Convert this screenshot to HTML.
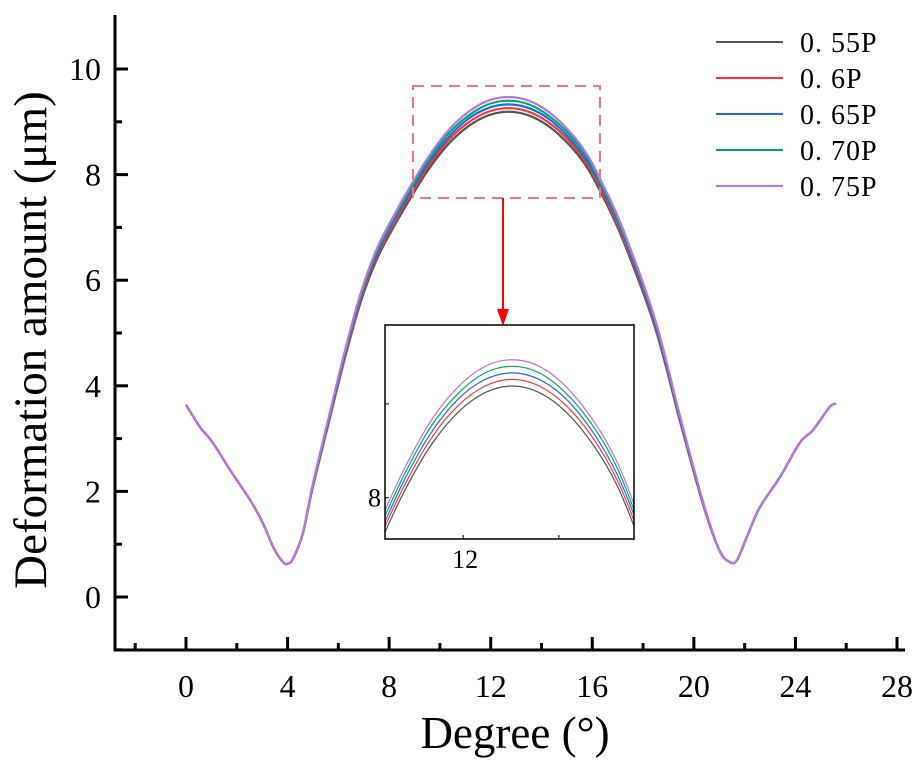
<!DOCTYPE html>
<html><head><meta charset="utf-8"><style>
html,body{margin:0;padding:0;background:#fff;overflow:hidden;width:921px;height:777px;}
svg{display:block;position:absolute;left:0;top:0;}
text{font-family:"Liberation Serif","Noto Serif CJK SC",serif;fill:#000;}
</style></head><body>
<svg id="chart" width="921" height="777" viewBox="0 0 921 777"></svg>
<script>
const xValues=[0,0.55,1.06,1.73,2.52,3.03,3.43,3.82,4.0,4.21,4.6,4.98,5.61,6.25,6.89,7.52,8.17,8.8,9.5,10.3,11.1,11.9,12.7,13.5,14.3,15.1,15.8,16.4,17.19,18.46,19.48,20.37,21.0,21.42,21.7,22.09,22.6,23.39,24.17,24.69,25.35,25.6];
const y055=[3.64,3.22,2.92,2.41,1.84,1.40,0.95,0.66,0.63,0.72,1.20,2.05,3.28,4.51,5.60,6.40,7.00,7.52,8.06,8.56,8.91,9.12,9.19,9.12,8.91,8.56,8.13,7.60,6.78,5.12,3.28,1.74,0.89,0.66,0.70,1.14,1.70,2.27,2.92,3.16,3.60,3.66];
const y060=[3.64,3.22,2.92,2.41,1.84,1.40,0.95,0.66,0.63,0.72,1.20,2.07,3.31,4.54,5.64,6.45,7.05,7.58,8.12,8.63,8.98,9.19,9.26,9.19,8.98,8.63,8.19,7.66,6.83,5.16,3.31,1.75,0.89,0.66,0.70,1.14,1.70,2.27,2.92,3.16,3.60,3.66];
const y065=[3.64,3.22,2.92,2.41,1.84,1.40,0.95,0.66,0.63,0.72,1.20,2.08,3.33,4.58,5.69,6.50,7.11,7.63,8.18,8.69,9.05,9.26,9.33,9.26,9.05,8.69,8.25,7.72,6.89,5.20,3.33,1.77,0.89,0.66,0.70,1.14,1.70,2.27,2.92,3.16,3.60,3.66];
const y070=[3.64,3.22,2.92,2.41,1.84,1.40,0.95,0.66,0.63,0.72,1.20,2.10,3.36,4.61,5.73,6.55,7.16,7.69,8.24,8.76,9.11,9.33,9.40,9.33,9.11,8.76,8.32,7.77,6.94,5.24,3.36,1.78,0.89,0.66,0.70,1.14,1.70,2.27,2.92,3.16,3.60,3.66];
const y075=[3.64,3.22,2.92,2.41,1.84,1.40,0.95,0.66,0.63,0.72,1.20,2.11,3.38,4.65,5.77,6.60,7.21,7.75,8.30,8.82,9.18,9.40,9.47,9.40,9.18,8.82,8.38,7.83,6.99,5.28,3.38,1.79,0.89,0.66,0.70,1.14,1.70,2.27,2.92,3.16,3.60,3.66];
const seriesNames=["0. 55P","0. 6P","0. 65P","0. 70P","0. 75P"];
const seriesColors=["#555555","#ff3333","#1a6fdf","#00a86b","#c070e0"];
const xTicks=[0,4,8,12,16,20,24,28];
const xMinor=[-2,2,6,10,14,18,22,26];
const yTicks=[0,2,4,6,8,10];
const yMinor=[-1,1,3,5,7,9];
const insetXTicks=[11.25,14.08];
const insetXLabels=["12",""];
const insetYTicks=[8,9];
const insetYLabels=["8",""];

const NS="http://www.w3.org/2000/svg";
const svg=document.getElementById('chart');
function mk(tag,attrs,parent){const e=document.createElementNS(NS,tag);for(const k in attrs)e.setAttribute(k,attrs[k]);(parent||svg).appendChild(e);return e;}
const X=v=>186+(v)*25.393;
const Y=v=>597-v*52.8;
const IX=v=>385+(v-8.94)*(249/7.36);
const IY=v=>539-(v-7.56)*(214/2.28);
function pathD(xs,ys,fx,fy){
  const p=xs.map((x,i)=>[fx(x),fy(ys[i])]);
  let d='M'+p[0][0].toFixed(2)+','+p[0][1].toFixed(2);
  for(let i=0;i<p.length-1;i++){
    const p0=p[Math.max(0,i-1)],p1=p[i],p2=p[i+1],p3=p[Math.min(p.length-1,i+2)];
    const c1x=p1[0]+(p2[0]-p0[0])/6,c1y=p1[1]+(p2[1]-p0[1])/6;
    const c2x=p2[0]-(p3[0]-p1[0])/6,c2y=p2[1]-(p3[1]-p1[1])/6;
    d+=' C'+c1x.toFixed(2)+','+c1y.toFixed(2)+' '+c2x.toFixed(2)+','+c2y.toFixed(2)+' '+p2[0].toFixed(2)+','+p2[1].toFixed(2);
  }
  return d;
}
const allSeries=[y055,y060,y065,y070,y075];

allSeries.forEach((ys,i)=>{
  const el=mk('path',{d:pathD(xValues,ys,X,Y),fill:'none',stroke:seriesColors[i],'stroke-width':2.2});
  
  
});

const ax=mk('path',{d:'M115,15 L115,650 L905,650',fill:'none',stroke:'#000','stroke-width':3});


xTicks.forEach(v=>{
  const t=mk('line',{x1:X(v),x2:X(v),y1:650,y2:637,stroke:'#000','stroke-width':3});
  
  
  const l=mk('text',{x:X(v),y:697,'font-size':32,'text-anchor':'middle'});
  l.textContent=v;
  
  
});
xMinor.forEach(v=>{
  const t=mk('line',{x1:X(v),x2:X(v),y1:650,y2:643,stroke:'#000','stroke-width':3});
  
  
});
yTicks.forEach(v=>{
  const t=mk('line',{x1:115,x2:128,y1:Y(v),y2:Y(v),stroke:'#000','stroke-width':3});
  
  
  const l=mk('text',{x:101,y:Y(v)+11,'font-size':32,'text-anchor':'end'});
  l.textContent=v;
  
  
});
yMinor.forEach(v=>{
  const t=mk('line',{x1:115,x2:122,y1:Y(v),y2:Y(v),stroke:'#000','stroke-width':3});
  
  
});
const xt=mk('text',{x:515,y:748,'font-size':45,'text-anchor':'middle'});
xt.textContent='Degree (°)';


const yt=mk('text',{x:0,y:0,'font-size':47,'text-anchor':'middle',transform:'translate(46,340) rotate(-90)'});
yt.textContent='Deformation amount (μm)';



seriesNames.forEach((n,i)=>{
  const ly=42+i*36;
  const ln=mk('line',{x1:716,x2:783,y1:ly,y2:ly,stroke:seriesColors[i],'stroke-width':2});
  
  
  const t=mk('text',{x:800,y:ly+10,'font-size':28,'letter-spacing':'1'});
  t.textContent=n;
  
  
});

const zb=mk('rect',{x:413,y:86,width:187,height:112,fill:'none',stroke:'#f07878','stroke-width':2,'stroke-dasharray':'11,7'});


const ar=mk('line',{x1:503,y1:198,x2:503,y2:312,stroke:'#ff0000','stroke-width':2});


const ah=mk('path',{d:'M497,309 L509,309 L503,326 Z',fill:'#ff0000'});



const ig=mk('g',{});


const bg=mk('rect',{x:385,y:325,width:249,height:214,fill:'#fff'},ig);


const cp=mk('clipPath',{id:'insetclip'},ig);
mk('rect',{x:385,y:325,width:249,height:214},cp);
const cg=mk('g',{'clip-path':'url(#insetclip)'},ig);
allSeries.forEach((ys,i)=>{
  const el=mk('path',{d:pathD(xValues,ys,IX,IY),fill:'none',stroke:seriesColors[i],'stroke-width':1.2},cg);
  
  
});
const fr=mk('rect',{x:385,y:325,width:249,height:214,fill:'none',stroke:'#000','stroke-width':1.5},ig);


insetXTicks.forEach((v,i)=>{
  const t=mk('line',{x1:IX(v),x2:IX(v),y1:539,y2:535,stroke:'#000','stroke-width':1},ig);
  
  
  if(insetXLabels[i]){
    const l=mk('text',{x:IX(v)+2,y:568,'font-size':26,'text-anchor':'middle'},ig);
    l.textContent=insetXLabels[i];
    
    
  }
});
insetYTicks.forEach((v,i)=>{
  const t=mk('line',{x1:385,x2:389,y1:IY(v),y2:IY(v),stroke:'#000','stroke-width':1},ig);
  
  
  if(insetYLabels[i]){
    const l=mk('text',{x:381,y:IY(v)+9,'font-size':26,'text-anchor':'end'},ig);
    l.textContent=insetYLabels[i];
    
    
  }
});
</script>
</body></html>
